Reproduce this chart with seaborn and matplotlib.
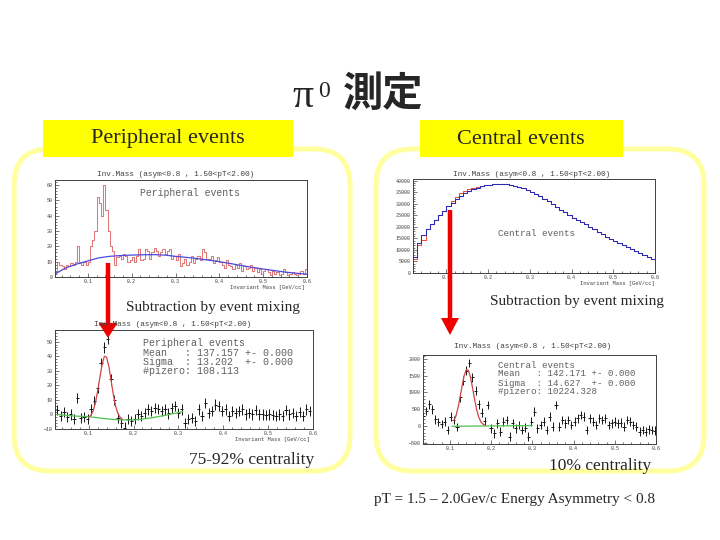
import numpy as np
import pandas as pd
import seaborn as sns
import matplotlib.pyplot as plt
from matplotlib.patches import FancyBboxPatch, Rectangle, FancyArrow
from matplotlib.ticker import MultipleLocator

sns.set_style("white")
plt.rcParams['font.family'] = ['Liberation Mono', 'DejaVu Sans']

# === Peripheral events: real pairs (0.005 bins from 0.025) ===
per_start, per_bin = 0.025, 0.005
per_real = [3, 10, 8, 7, 5, 8, 7, 9, 8, 10,
            20, 9, 8, 10, 8, 10, 20, 24, 30, 52,
            48, 40, 60, 44, 30, 20, 17, 8, 13, 14,
            12, 15, 14, 10, 11, 13, 10, 14, 18, 11,
            12, 18, 17, 12, 16, 19, 17, 14, 16, 18,
            15, 17, 18, 12, 14, 11, 15, 7, 9, 12,
            8, 10, 14, 9, 12, 14, 11, 18, 16, 12,
            12, 14, 9, 11, 13, 10, 8, 6, 11, 8,
            7, 5, 8, 6, 9, 4, 7, 5, 6, 8,
            4, 6, 3, 5, 2, 4, 5, 3, 1, 4,
            2, 3, 1, 2, 5, 3, 1, 2, 3, 2,
            1, 2, 4, 2, 5]
# event mixing background
per_mix_x = [0.025, 0.05, 0.075, 0.1, 0.125, 0.15, 0.175, 0.2, 0.225, 0.25, 0.275, 0.3,
             0.325, 0.35, 0.375, 0.4, 0.425, 0.45, 0.475, 0.5, 0.525, 0.55, 0.575, 0.6]
per_mix_y = [2, 6, 8.5, 10.5, 12.5, 13.5, 14, 14.3, 14.5, 14.6, 14.3, 13.5,
             12.8, 12, 11, 10, 8.8, 7.5, 6.3, 5.2, 4.2, 3.2, 2.5, 1.8]

# === Central events: real / mixed (0.01 bins from 0.02) ===
cen_start, cen_bin = 0.02, 0.01
cen_mix = [7000, 13000, 16500, 19000, 21000, 23000, 25000, 27000, 28800, 30500,
           32000, 33300, 34500, 35500, 36300, 37000, 37500, 37900, 38200, 38400,
           38500, 38500, 38400, 38100, 37700, 37200, 36600, 35900, 35100, 34200,
           33200, 32100, 31000, 29800, 28600, 27400, 26200, 25000, 24000, 23000,
           22000, 21000, 19900, 18900, 17800, 16800, 15800, 14800, 13900, 13000,
           12100, 11300, 10300, 9400, 8500, 7700, 6800, 6000]
cen_real = [6000, 12000, 14500, 19000, 21000, 23000, 25000, 27000, 29000, 31000,
            32800, 34500, 35700, 36300, 36700, 37100, 37500, 37900, 38200, 38400,
            38500, 38500, 38400, 38100, 37700, 37200, 36600, 35900, 35100, 34200,
            33200, 32100, 31000, 29800, 28600, 27400, 26200, 25000, 24000, 23000,
            22000, 21000, 19900, 18900, 17800, 16800, 15800, 14800, 13900, 13000,
            12100, 11300, 10300, 9400, 8500, 7700, 6800, 6000]

# === Subtracted spectra (0.0075 steps) ===
sub_bin = 0.0075
per_sub_start = 0.03
per_sub = [3, -1, 1.5, -2, 0, -3.4, 11.4, -2.3, -1.6, -3,
           3.4, 9, 18, 35, 46, 52, 24, 10, -2.3, -5.7,
           -9, -3.4, -4.5, -3, 0, -1, 1, 3.4, 2.3, 4.5,
           3.9, 2.3, 3.4, 0.7, 4.5, 5.7, 1, 3.4, -5.7, -3.4,
           -2.3, -4.5, 3.4, -1, 8, 1, 2.3, 6.8, 5.7, 2.3,
           3.4, -1, 2.3, 1, 2.3, 3.4, 0, 1, 0, 3,
           0, 0, -0.5, 0, -0.5, -1, 0, -1, 3, 0,
           1, -1, 1.6, -1, 3.4, 2.3]
per_sub_err = 3.5
per_fit_x = [0.1, 0.105, 0.11, 0.115, 0.12, 0.125, 0.13, 0.135,
             0.14, 0.145, 0.15, 0.155, 0.16, 0.165, 0.17, 0.175]
per_fit_y = [-1.9, -0.6, 2.4, 7.9, 16, 25.5, 34.3, 40,
             39.3, 33, 23.4, 13.7, 5.8, 0.8, -1.9, -3.3]
per_bg_x = [0.03, 0.05, 0.075, 0.1, 0.125, 0.15, 0.175, 0.2, 0.225, 0.25, 0.275, 0.3, 0.31]
per_bg_y = [0, -0.7, -1.2, -1.5, -2.5, -3.3, -3.8, -3.8, -3, -1.8, -0.3, 1.3, 2]

cen_sub_start = 0.035
cen_sub = [300, 450, 650, 500, 200, 120, 60, 130, -120, 280,
           180, -30, 850, 1350, 1650, 1880, 1450, 1050, 650, 400,
           150, 630, -70, -220, 80, -170, 130, 180, -320, 80,
           -70, 30, -120, -50, -320, 130, 430, -70, 30, 130,
           -120, 280, -20, 630, -20, 180, 80, 180, 30, 130,
           230, 330, 280, -120, 230, 130, 30, 230, 180, 230,
           30, 80, 130, 80, 100, -20, 180, 130, 30, -20,
           -170, -120, -170, -100, -120, -140]
cen_sub_err = 130
cen_fit_x = [0.11, 0.115, 0.12, 0.125, 0.13, 0.135, 0.14, 0.145,
             0.15, 0.155, 0.16, 0.165, 0.17, 0.175, 0.18, 0.185]
cen_fit_y = [155, 306, 545, 862, 1210, 1515, 1683, 1663,
             1460, 1145, 800, 490, 270, 130, 58, 22]
cen_bg_x = [0.105, 0.2, 0.3]
cen_bg_y = [-10, 0, 10]

W, H = 720, 540
fig = plt.figure(figsize=(7.2, 5.4), dpi=100)


def px_axes(x0, y0, x1, y1, z):
    return fig.add_axes([x0 / W, 1 - y1 / H, (x1 - x0) / W, (y1 - y0) / H], zorder=z)


def pixel_layer(z):
    ax = px_axes(0, 0, W, H, z)
    ax.set_xlim(0, W)
    ax.set_ylim(H, 0)
    ax.axis('off')
    ax.patch.set_alpha(0)
    return ax


def root_axes(box):
    ax = px_axes(*box, 1)
    ax.set_facecolor('white')
    for s in ax.spines.values():
        s.set_color('#404040')
        s.set_linewidth(0.7)
    return ax


def finish(ax, xlim, ylim, ymaj, ymin):
    ax.set_xlim(*xlim)
    ax.set_ylim(*ylim)
    ax.set(xlabel='', ylabel='')
    ax.xaxis.set_major_locator(MultipleLocator(0.1))
    ax.xaxis.set_minor_locator(MultipleLocator(0.02))
    ax.yaxis.set_major_locator(MultipleLocator(ymaj))
    ax.yaxis.set_minor_locator(MultipleLocator(ymin))
    ax.tick_params(which='both', direction='in', bottom=True, left=True, top=False, right=False,
                   labelsize=3.6, labelcolor='#404040', color='#404040', width=0.5, pad=1.5)
    ax.tick_params(which='major', length=3)
    ax.tick_params(which='minor', length=1.5)


def step_hist(ax, start, width, counts, color):
    edges = [start + width * i for i in range(len(counts) + 1)]
    df = pd.DataFrame({'mass': [e + width / 2 for e in edges[:-1]], 'n': counts})
    sns.histplot(data=df, x='mass', weights='n', bins=edges, element='step', fill=False,
                 color=color, linewidth=0.75, ax=ax)


bg = pixel_layer(0)
top = pixel_layer(5)

# slide frames
for x0, x1 in [(14, 350), (376, 704)]:
    bg.add_patch(FancyBboxPatch((x0, 149), x1 - x0, 322, boxstyle="round,pad=0,rounding_size=36",
                                fc='white', ec='#ffffa0', lw=3.6))
bg.add_patch(Rectangle((43, 120), 250, 37, fc='#ffff00', ec='none'))
bg.add_patch(Rectangle((420, 120), 203, 37, fc='#ffff00', ec='none'))

serif = ['Liberation Serif', 'DejaVu Serif']
top.text(168, 139, "Peripheral events", ha='center', va='center', fontsize=16, family=serif)
top.text(521, 139, "Central events", ha='center', va='center', fontsize=16, family=serif)
top.text(292, 107, "\u03c0", ha='left', va='baseline', fontsize=30, family=serif)
top.text(318, 97, "0", ha='left', va='baseline', fontsize=17, family=serif)
top.text(343, 94, "測定", ha='left', va='center', fontsize=29, weight='bold',
         family=['Noto Sans CJK JP', 'DejaVu Sans'])
top.text(213, 308, "Subtraction by event mixing", ha='center', va='center', fontsize=11, family=serif)
top.text(577, 301, "Subtraction by event mixing", ha='center', va='center', fontsize=11, family=serif)
top.text(252, 460, "75-92% centrality", ha='center', va='center', fontsize=12.5, family=serif)
top.text(600, 466, "10% centrality", ha='center', va='center', fontsize=12.5, family=serif)
top.text(515, 500, "pT = 1.5 \u2013 2.0Gev/c Energy Asymmetry < 0.8", ha='center', va='center',
         fontsize=11, family=serif)

# === Top left: peripheral real + mixed ===
ax1 = root_axes((55, 180, 307, 277))
step_hist(ax1, per_start, per_bin, per_real, '#e07878')
sns.lineplot(x=per_mix_x, y=per_mix_y, color='#4a4ae0', linewidth=0.9, ax=ax1)
finish(ax1, (0.025, 0.6), (0, 63.3), 10, 2)

# === Top right: central real + mixed ===
ax2 = root_axes((413, 179, 655, 273))
step_hist(ax2, cen_start, cen_bin, cen_real, '#e05050')
step_hist(ax2, cen_start, cen_bin, cen_mix, '#2a2ab8')
finish(ax2, (0.02, 0.6), (0, 40700), 5000, 1000)

# === Bottom left: peripheral subtracted ===
ax3 = root_axes((55, 330, 313, 429))
xs = [per_sub_start + sub_bin * i for i in range(len(per_sub))]
ax3.errorbar(xs, per_sub, yerr=per_sub_err, xerr=sub_bin / 2, fmt='none', ecolor='#151515',
             elinewidth=0.7, capsize=0)
sns.lineplot(x=per_bg_x, y=per_bg_y, color='#50c050', linewidth=0.9, ax=ax3)
sns.lineplot(x=per_fit_x, y=per_fit_y, color='#d04545', linewidth=0.9, ax=ax3)
finish(ax3, (0.025, 0.6), (-10, 58), 10, 2)

# === Bottom right: central subtracted ===
ax4 = root_axes((423, 355, 656, 444))
xs = [cen_sub_start + sub_bin * i for i in range(len(cen_sub))]
ax4.errorbar(xs, cen_sub, yerr=cen_sub_err, xerr=sub_bin / 2, fmt='none', ecolor='#151515',
             elinewidth=0.7, capsize=0)
sns.lineplot(x=cen_bg_x, y=cen_bg_y, color='#50c050', linewidth=0.9, ax=ax4)
sns.lineplot(x=cen_fit_x, y=cen_fit_y, color='#d04545', linewidth=0.9, ax=ax4)
finish(ax4, (0.035, 0.6), (-540, 2120), 500, 100)

# ROOT-style titles and stat boxes
grey = '#606060'
title = "Inv.Mass (asym<0.8 , 1.50<pT<2.00)"
for tx, ty in [(176, 175), (532, 175), (173, 325), (533, 347)]:
    top.text(tx, ty, title, ha='center', va='center', fontsize=5.6, color='#404040')
for tx, ty in [(305, 287), (655, 284), (310, 439)]:
    top.text(tx, ty, "Invariant Mass [GeV/cc]", ha='right', va='center', fontsize=4, color='#404040')
top.text(140, 193, "Peripheral events", ha='left', va='center', fontsize=7.1, color=grey)
top.text(498, 233, "Central events", ha='left', va='center', fontsize=6.7, color=grey)
per_lines = ["Peripheral events", "Mean   : 137.157 +- 0.000",
             "Sigma  : 13.202  +- 0.000", "#pizero: 108.113"]
for line, ty in zip(per_lines, [343, 353, 362, 371]):
    top.text(143, ty, line, ha='left', va='center', fontsize=7.2, color=grey)
cen_lines = ["Central events", "Mean   : 142.171 +- 0.000",
             "Sigma  : 14.627  +- 0.000", "#pizero: 10224.328"]
for line, ty in zip(cen_lines, [365, 374, 383, 392]):
    top.text(498, ty, line, ha='left', va='center', fontsize=6.6, color=grey)

# red arrows
top.add_patch(FancyArrow(108, 263, 0, 75, width=4.5, head_width=19, head_length=15,
                         length_includes_head=True, color='#ee0000', lw=0))
top.add_patch(FancyArrow(450, 210, 0, 125, width=4.5, head_width=18, head_length=17,
                         length_includes_head=True, color='#ee0000', lw=0))

fig.savefig('out.png', dpi=100)
